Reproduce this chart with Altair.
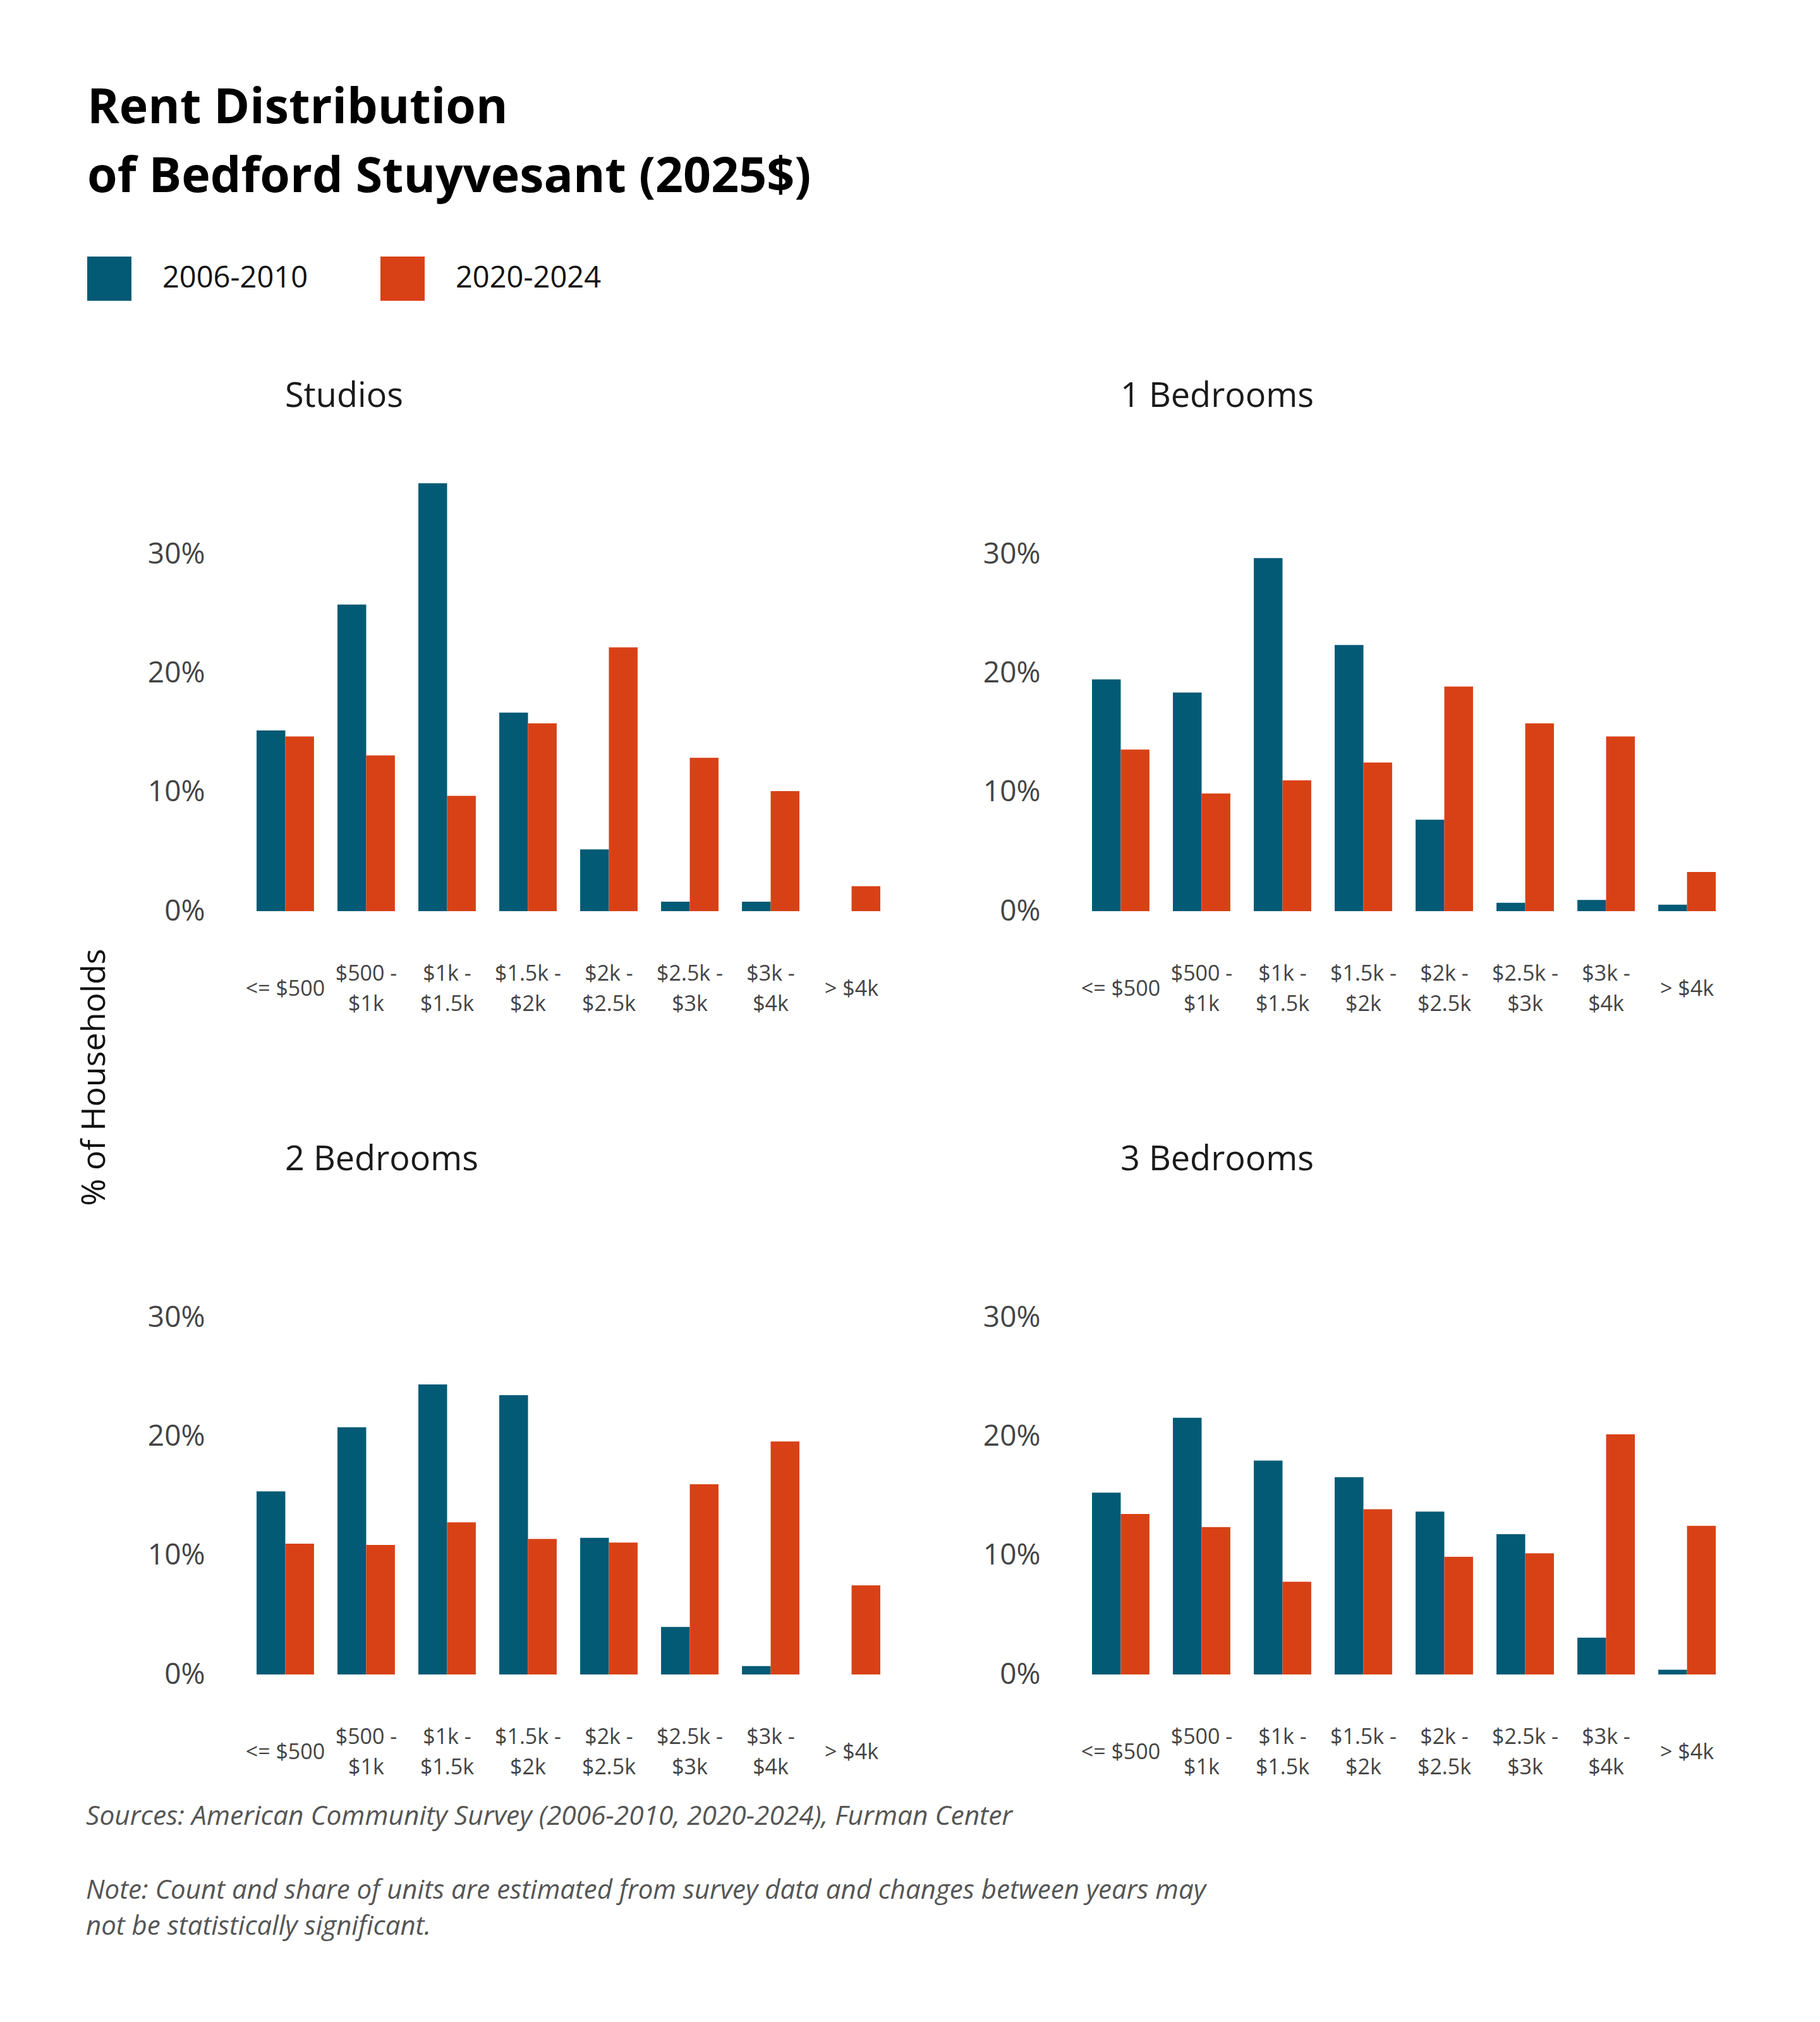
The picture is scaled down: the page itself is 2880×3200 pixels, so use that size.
import altair as alt
import pandas as pd

# ---------------- data ----------------
brackets = ["<= $500", "$500 - $1k", "$1k - $1.5k", "$1.5k - $2k",
            "$2k - $2.5k", "$2.5k - $3k", "$3k - $4k", "> $4k"]
periods = ["2006-2010", "2020-2024"]
units = ["Studios", "1 Bedrooms", "2 Bedrooms", "3 Bedrooms"]

studios_2006 = [15.2, 25.8, 36.0, 16.7, 5.2, 0.8, 0.8, 0.0]
studios_2020 = [14.7, 13.1, 9.7, 15.8, 22.2, 12.9, 10.1, 2.1]
bed1_2006 = [19.5, 18.4, 29.7, 22.4, 7.7, 0.7, 0.95, 0.55]
bed1_2020 = [13.6, 9.9, 11.0, 12.5, 18.9, 15.8, 14.7, 3.3]
bed2_2006 = [15.4, 20.8, 24.4, 23.5, 11.5, 4.0, 0.7, 0.0]
bed2_2020 = [11.0, 10.9, 12.8, 11.4, 11.1, 16.0, 19.6, 7.5]
bed3_2006 = [15.3, 21.6, 18.0, 16.6, 13.7, 11.8, 3.1, 0.4]
bed3_2020 = [13.5, 12.4, 7.8, 13.9, 9.9, 10.2, 20.2, 12.5]

series = {
    "Studios": (studios_2006, studios_2020),
    "1 Bedrooms": (bed1_2006, bed1_2020),
    "2 Bedrooms": (bed2_2006, bed2_2020),
    "3 Bedrooms": (bed3_2006, bed3_2020),
}

title_lines = ["Rent Distribution", "of Bedford Stuyvesant (2025$)"]
y_title = "% of Households"
sources_text = "Sources: American Community Survey (2006-2010, 2020-2024), Furman Center"
note_lines = ["Note: Count and share of units are estimated from survey data and changes between years may",
              "not be statistically significant."]

colors = ["#025a75", "#d84116"]
FONT = "Open Sans"

rows = []
for u in units:
    a, b = series[u]
    for i, br in enumerate(brackets):
        rows.append({"unit": u, "bracket": br, "period": periods[0], "share": a[i] / 100})
        rows.append({"unit": u, "bracket": br, "period": periods[1], "share": b[i] / 100})
df = pd.DataFrame(rows)

W, H = 1115, 696

# two-line labels split at " - " (line height 48); single-line labels get an
# empty first line with half the line height so they sit between the two lines
label_expr = ("indexof(datum.value, ' - ') > 0 ? "
              "[split(datum.value, ' - ')[0] + ' -', split(datum.value, ' - ')[1]] : "
              "['', datum.value]")
label_lh = alt.ExprRef("indexof(datum.value, ' - ') > 0 ? 48 : 24")


def bars(u, show_legend=False):
    legend = None
    if show_legend:
        legend = alt.Legend(
            title=None, orient="none", legendX=-204, legendY=-340,
            direction="horizontal", symbolType="square", symbolSize=4900,
            symbolStrokeWidth=0, symbolOpacity=1, labelFontSize=47,
            labelFont=FONT, labelColor="#111", labelOffset=49, labelLimit=600,
            columnPadding=114, padding=0,
        )
    return alt.Chart(df[df.unit == u]).mark_bar().encode(
        x=alt.X("bracket:N", sort=brackets,
                scale=alt.Scale(paddingInner=0.29, paddingOuter=0.5),
                axis=alt.Axis(title=None, labelAngle=0, domain=False, ticks=False,
                              tickSize=0, labelPadding=99, labelBaseline="middle",
                              labelLineHeight=label_lh, labelFontSize=34, labelFont=FONT,
                              labelColor="#444", labelExpr=label_expr,
                              labelOverlap=False, labelLimit=400)),
        xOffset=alt.XOffset("period:N", sort=periods),
        y=alt.Y("share:Q", scale=alt.Scale(domain=[0, 0.37], nice=False),
                axis=alt.Axis(title=None, format=".0%", values=[0, 0.1, 0.2, 0.3],
                              grid=False, domain=False, ticks=False, tickSize=0,
                              labelPadding=18, labelFontSize=46, labelFont=FONT,
                              labelColor="#444")),
        color=alt.Color("period:N", sort=periods,
                        scale=alt.Scale(domain=periods, range=colors),
                        legend=legend),
    )


def panel(u, extra=None, show_legend=False):
    layers = [bars(u, show_legend)] + (extra or [])
    return alt.layer(*layers).properties(
        width=W, height=H,
        title=alt.TitleParams(u, anchor="start", frame="group", dx=109, offset=48,
                              baseline="alphabetic", fontSize=54, font=FONT,
                              fontWeight="normal", color="#1a1a1a"),
    )


ytitle = alt.Chart(pd.DataFrame({"t": [y_title]})).mark_text(
    angle=270, fontSize=52, font=FONT, color="#111", align="center", baseline="middle"
).encode(text="t:N", x=alt.value(-192), y=alt.value(959))

footer_src = alt.Chart(pd.DataFrame({"t": [sources_text]})).mark_text(
    fontSize=42.5, font=FONT, fontStyle="italic", color="#555", align="left", baseline="middle"
).encode(text="t:N", x=alt.value(-206), y=alt.value(921))

footer_note = alt.Chart(pd.DataFrame({"t": [0]})).mark_text(
    text=note_lines, lineHeight=57, fontSize=42, font=FONT, fontStyle="italic",
    color="#555", align="left", baseline="middle"
).encode(x=alt.value(-206), y=alt.value(1038))

chart = alt.concat(
    panel("Studios", [ytitle], show_legend=True),
    panel("1 Bedrooms"),
    panel("2 Bedrooms", [footer_src, footer_note]),
    panel("3 Bedrooms"),
    columns=2, spacing={"row": 512, "column": 207}, bounds="flush",
    padding={"left": 116, "top": 125, "right": 20, "bottom": 20},
).properties(
    title=alt.TitleParams(title_lines, anchor="start", frame="group", dx=-204, offset=9,
                          fontSize=77, lineHeight=109, font=FONT, fontWeight="bold",
                          color="#000", baseline="bottom"),
    background="white",
).configure_view(strokeWidth=0)

chart.save("out.html", embed_options={"renderer": "svg", "actions": False})
